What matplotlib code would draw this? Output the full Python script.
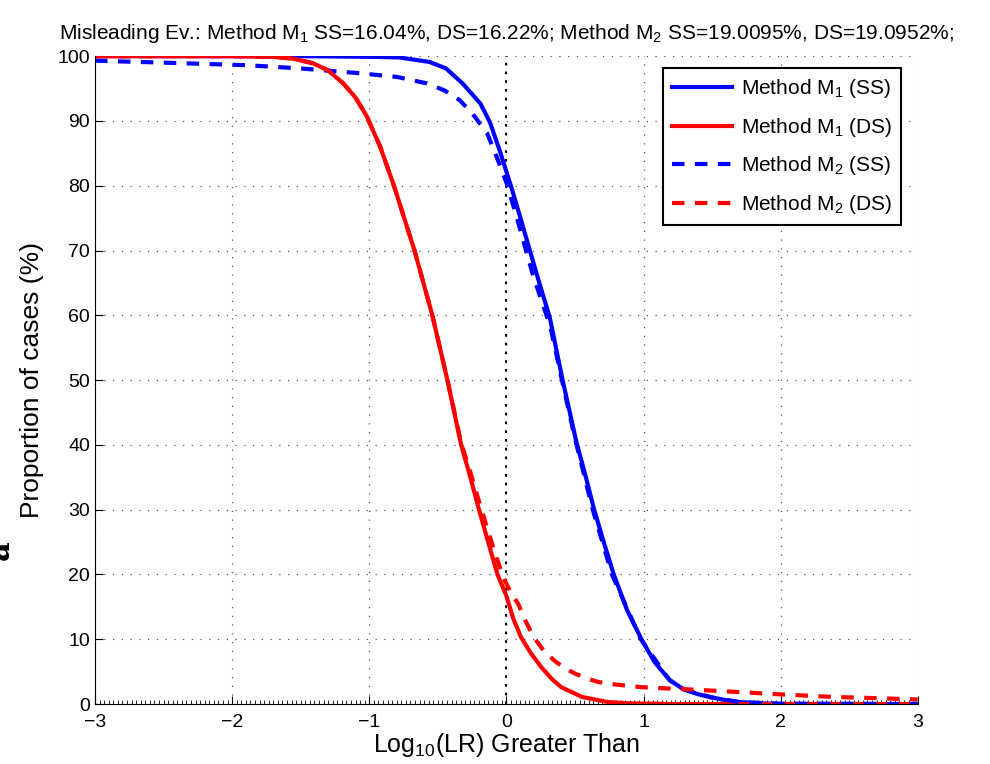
import matplotlib
matplotlib.use('Agg')
import matplotlib.pyplot as plt
from matplotlib.ticker import MultipleLocator

plt.rcParams['font.family'] = ['Liberation Sans', 'DejaVu Sans']
plt.rcParams['mathtext.fontset'] = 'custom'
plt.rcParams['mathtext.rm'] = 'Liberation Sans'

# Method M1, same source (blue solid)
x_m1_ss = [-3, -1.5, -1.0, -0.78, -0.56, -0.44, -0.32, -0.19, -0.12, -0.05, 0.04, 0.1, 0.17,
           0.24, 0.316, 0.41, 0.51, 0.58, 0.64, 0.71, 0.78, 0.88, 0.985, 1.08, 1.19, 1.29, 1.4,
           1.48, 1.6, 1.7, 1.85, 2.0, 3.0]
y_m1_ss = [100, 100, 99.9, 99.8, 99.1, 98.1, 95.8, 92.7, 89.8, 85.5, 79.5, 75.2, 70.1,
           65, 59.7, 50, 40.5, 35, 30, 25, 20.2, 14.5, 10, 6.5, 3.7, 2.3, 1.5,
           1.1, 0.6, 0.3, 0.1, 0.0, 0.0]

# Method M1, different source (red solid)
x_m1_ds = [-3, -2, -1.7, -1.55, -1.41, -1.3, -1.19, -1.1, -1.02, -0.92, -0.82, -0.67, -0.54,
           -0.43, -0.33, -0.26, -0.2, -0.13, -0.065, 0.0, 0.05, 0.107, 0.18, 0.254, 0.33, 0.40,
           0.55, 0.74, 0.9, 1.2, 3.0]
y_m1_ds = [100, 100, 99.9, 99.6, 98.9, 97.8, 95.8, 93.6, 90.8, 86, 80, 70, 60,
           50, 40, 34.8, 30, 24.8, 20, 16.7, 13.2, 10.3, 7.8, 5.7, 3.9, 2.6,
           1.1, 0.3, 0.1, 0.0, 0.0]

# Method M2, same source (blue dashed)
x_m2_ss = [-3, -2.5, -1.89, -1.5, -1.09, -0.8, -0.58, -0.45, -0.34, -0.25, -0.14, -0.07, 0.0,
           0.075, 0.13, 0.19, 0.26, 0.32, 0.4, 0.5, 0.63, 0.77, 0.98, 1.19, 1.3, 1.5, 1.7, 2.0, 3.0]
y_m2_ss = [99.3, 99.0, 98.6, 98.1, 97.4, 96.8, 95.8, 94.7, 93.2, 91.2, 88.1, 84.4, 80.5,
           75.2, 71, 66.5, 62, 58.3, 50.5, 41, 30, 20, 10, 3.7, 2.2, 1.0, 0.3, 0.05, 0.0]

# Method M2, different source (red dashed)
x_m2_ds = [-3, -2, -1.7, -1.55, -1.41, -1.3, -1.19, -1.1, -1.02, -0.92, -0.82, -0.67, -0.54,
           -0.43, -0.33, -0.28, -0.21, -0.134, -0.07, -0.02, 0.03, 0.085, 0.14, 0.2, 0.27, 0.35,
           0.42, 0.5, 0.58, 0.67, 0.8, 0.985, 1.18, 1.29, 1.65, 1.99, 2.38, 2.87, 3.0]
y_m2_ds = [100, 100, 99.9, 99.6, 98.9, 97.8, 95.8, 93.6, 90.8, 86, 80, 70, 60,
           50, 40.3, 37, 32, 26.7, 22.5, 19.4, 17.3, 15.5, 12.8, 10.3, 8.3, 6.7,
           5.6, 4.7, 4.0, 3.4, 3.0, 2.6, 2.4, 2.3, 1.9, 1.5, 1.1, 0.8, 0.7]

xticks = [-3, -2, -1, 0, 1, 2, 3]
yticks = [0, 10, 20, 30, 40, 50, 60, 70, 80, 90, 100]

fig = plt.figure(figsize=(9.9, 7.64), dpi=100)
ax = fig.add_axes([0.096, 0.0785, 0.831, 0.848])

ax.plot(x_m1_ss, y_m1_ss, '-', color='#0000ff', lw=3, label='Method M$_1$ (SS)')
ax.plot(x_m1_ds, y_m1_ds, '-', color='#ff0000', lw=3, label='Method M$_1$ (DS)')
ax.plot(x_m2_ss, y_m2_ss, '--', color='#0000ff', lw=3, dashes=(3, 2.5), label='Method M$_2$ (SS)')
ax.plot(x_m2_ds, y_m2_ds, '--', color='#ff0000', lw=3, dashes=(3, 2.5), label='Method M$_2$ (DS)')

# dotted line at log10(LR) = 0
ax.plot([0, 0], [0, 100], color='black', lw=1.5, linestyle=(0, (1.2, 3)), zorder=1)

ax.set_xlim(-3, 3)
ax.set_ylim(0, 100)
ax.set_xticks(xticks)
ax.set_yticks(yticks)
ax.set_xticklabels(['\u22123', '\u22122', '\u22121', '0', '1', '2', '3'])
ax.xaxis.set_minor_locator(MultipleLocator(1 / 30))
ax.tick_params(which='major', direction='in', length=6, labelsize=14, top=False, right=False)
ax.tick_params(which='minor', direction='in', length=3, width=0.6, top=False, right=False, left=False)
ax.tick_params(axis='x', pad=7)
ax.grid(True, color='#555555', linestyle=(0, (1, 6)), lw=0.9)
ax.set_axisbelow(True)
ax.spines['top'].set_visible(False)
ax.spines['right'].set_visible(False)

ax.set_xlabel('Log$_{10}$(LR) Greater Than', fontsize=18, labelpad=0)
ax.set_ylabel('Proportion of cases (%)', fontsize=19, labelpad=10)
ax.set_title('Misleading Ev.: Method M$_1$ SS=16.04%, DS=16.22%; Method M$_2$ SS=19.0095%, DS=19.0952%;',
             fontsize=15, pad=12)

leg = ax.legend(loc='upper right', bbox_to_anchor=(0.98, 0.982), fontsize=15, frameon=True,
                fancybox=False, edgecolor='black', handlelength=2.9, labelspacing=0.75,
                borderpad=0.45, handletextpad=0.4, borderaxespad=0)
leg.get_frame().set_linewidth(1.5)
leg.get_frame().set_alpha(1)

# partly cut-off panel letter at the left edge
fig.text(0.0, 0.28, 'a', rotation=90, fontsize=22, fontweight='bold', family='serif',
         ha='center', va='center')

fig.savefig('out.png', dpi=100)
